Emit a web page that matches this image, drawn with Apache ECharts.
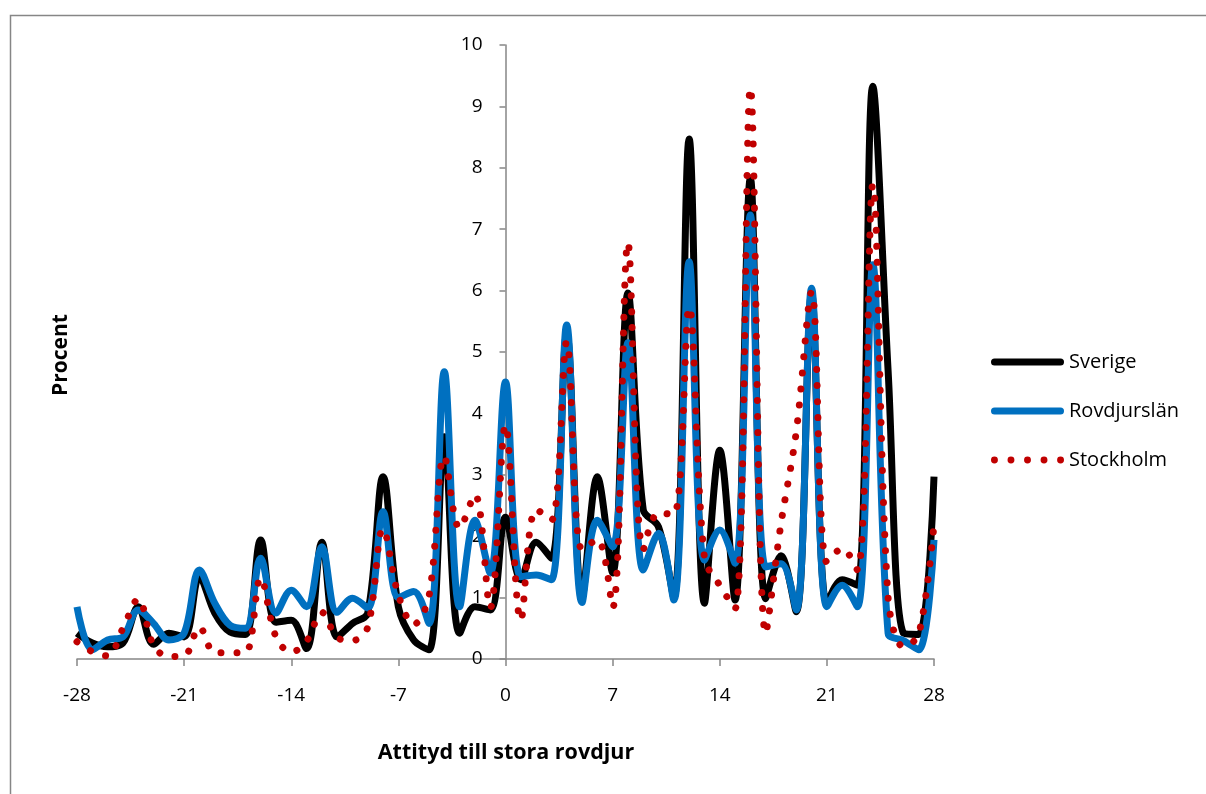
<!DOCTYPE html>
<html>
<head>
<meta charset="utf-8">
<script src="https://cdn.jsdelivr.net/npm/echarts@6/dist/echarts.min.js"></script>
<style>
html,body{margin:0;padding:0;background:#fff;}
#chart{width:1206px;height:794px;}
</style>
</head>
<body>
<div id="chart"></div>
<script>
// x positions (attitude score)
var xValues = [];
for (var i = -28; i <= 28; i++) xValues.push(i);

var xTicks = [-28, -21, -14, -7, 0, 7, 14, 21, 28];
var yTicks = [0, 1, 2, 3, 4, 5, 6, 7, 8, 9, 10];

var seriesNames = ['Sverige', 'Rovdjurslän', 'Stockholm'];

var sverige = [
  0.42, 0.26, 0.20, 0.26, 0.85, 0.24, 0.42, 0.36, 1.34, 0.75,
  0.44, 0.40, 1.94, 0.60, 0.63, 0.17, 1.90, 0.36, 0.58, 0.75,
  2.97, 0.85, 0.31, 0.15, 3.62, 0.42, 0.85, 0.80, 2.31, 1.29,
  1.90, 1.64, 5.30, 1.00, 2.97, 1.40, 5.96, 2.43, 2.15, 1.00,
  8.47, 0.91, 3.40, 0.96, 7.83, 0.98, 1.68, 0.77, 5.95, 0.90,
  1.29, 1.20, 9.33, 4.70, 0.42, 0.40, 2.97
];

var rovdjurslan = [
  0.85, 0.15, 0.31, 0.36, 0.80, 0.58, 0.31, 0.42, 1.45, 0.91,
  0.55, 0.50, 1.64, 0.75, 1.12, 0.85, 1.83, 0.76, 0.99, 0.83,
  2.40, 1.00, 1.10, 0.58, 4.68, 0.85, 2.26, 1.40, 4.51, 1.34,
  1.37, 1.29, 5.44, 0.92, 2.26, 1.83, 5.15, 1.45, 2.05, 0.96,
  6.47, 1.61, 2.10, 1.56, 7.23, 1.50, 1.55, 0.80, 6.04, 0.85,
  1.20, 0.85, 6.42, 0.42, 0.30, 0.15, 1.94
];

var stockholm = [
  0.28, 0.12, 0.05, 0.50, 0.98, 0.22, 0.04, 0.05, 0.52, 0.10,
  0.10, 0.10, 1.32, 0.36, 0.11, 0.29, 0.76, 0.35, 0.30, 0.52,
  2.12, 1.04, 0.56, 1.02, 3.30, 2.13, 2.68, 0.83, 3.81, 0.63,
  2.44, 2.26, 5.17, 1.78, 1.95, 0.84, 6.78, 1.78, 2.38, 2.35,
  5.73, 1.65, 1.20, 0.82, 9.30, 0.42, 2.20, 3.70, 5.98, 1.58,
  1.80, 1.45, 7.72, 1.00, 0.20, 0.40, 2.20
];

function pairs(vals) {
  return xValues.map(function (x, i) { return [x, vals[i]]; });
}

var FONT = '"Open Sans", Lato, sans-serif';
var SMOOTH = 0.35;

var GRID_LEFT = 77, GRID_RIGHT = 272;
var plotWidth = 1206 - GRID_LEFT - GRID_RIGHT;
// shift the y axis so that it crosses the x axis at x = 0
var yAxisOffset = -plotWidth * (0 - xTicks[0]) / (xTicks[xTicks.length - 1] - xTicks[0]);

var solidIcon = 'path://M3.5,0H69.5A3.5,3.5 0 0,1 69.5,7H3.5A3.5,3.5 0 0,1 3.5,0Z';
var dotIcon = 'path://' + [3.5, 20.25, 37, 53.75, 70.5].map(function (c) {
  return 'M' + (c - 3.5) + ',3.5a3.5,3.5 0 1,0 7,0a3.5,3.5 0 1,0 -7,0Z';
}).join('');

var chart = echarts.init(document.getElementById('chart'));
chart.setOption({
  animation: false,
  backgroundColor: '#ffffff',
  grid: { left: GRID_LEFT, right: GRID_RIGHT, top: 45, bottom: 135, containLabel: false },
  xAxis: {
    type: 'value',
    min: xTicks[0],
    max: xTicks[xTicks.length - 1],
    interval: 7,
    axisLine: { show: true, onZero: false, lineStyle: { color: '#868686', width: 1.5 } },
    axisTick: { show: true, inside: false, length: 7, lineStyle: { color: '#868686', width: 1.5 } },
    axisLabel: { color: '#000', fontSize: 19, fontFamily: FONT, margin: 27 },
    splitLine: { show: false }
  },
  yAxis: {
    type: 'value',
    position: 'left',
    offset: yAxisOffset,
    min: yTicks[0],
    max: yTicks[yTicks.length - 1],
    interval: 1,
    axisLine: { show: true, onZero: false, lineStyle: { color: '#868686', width: 1.5 } },
    axisTick: { show: true, inside: false, length: 6, lineStyle: { color: '#868686', width: 1.5 } },
    axisLabel: { color: '#000', fontSize: 19, fontFamily: FONT, margin: 23 },
    splitLine: { show: false }
  },
  legend: {
    orient: 'vertical',
    left: 986,
    top: 345,
    itemWidth: 73,
    itemHeight: 7,
    itemGap: 25,
    textStyle: { color: '#000', fontSize: 20, lineHeight: 24, fontFamily: FONT },
    data: [
      { name: seriesNames[0], icon: solidIcon },
      { name: seriesNames[1], icon: solidIcon },
      { name: seriesNames[2], icon: dotIcon }
    ]
  },
  graphic: [
    {
      type: 'rect', silent: true, z: -1,
      shape: { x: 10.5, y: 15.5, width: 1400, height: 900 },
      style: { fill: 'none', stroke: '#868686', lineWidth: 1.5 }
    },
    {
      type: 'text', silent: true,
      x: 506, y: 753,
      style: { text: 'Attityd till stora rovdjur', fill: '#000', fontSize: 21.5, fontWeight: 'bold', fontFamily: FONT, align: 'center', verticalAlign: 'middle' }
    },
    {
      type: 'text', silent: true,
      x: 61, y: 355, rotation: Math.PI / 2,
      style: { text: 'Procent', fill: '#000', fontSize: 21, fontWeight: 'bold', fontFamily: FONT, align: 'center', verticalAlign: 'middle' }
    }
  ],
  series: [
    {
      name: seriesNames[0], type: 'line', data: pairs(sverige),
      smooth: SMOOTH, symbol: 'none', showSymbol: false,
      lineStyle: { color: '#000000', width: 7 }, itemStyle: { color: '#000000' }, z: 2
    },
    {
      name: seriesNames[1], type: 'line', data: pairs(rovdjurslan),
      smooth: SMOOTH, symbol: 'none', showSymbol: false,
      lineStyle: { color: '#0070C0', width: 7 }, itemStyle: { color: '#0070C0' }, z: 3
    },
    {
      name: seriesNames[2], type: 'line', data: pairs(stockholm),
      smooth: SMOOTH, symbol: 'none', showSymbol: false,
      lineStyle: { color: '#C00000', width: 7, type: [0.01, 16], cap: 'round' }, itemStyle: { color: '#C00000' }, z: 4
    }
  ]
});
</script>
</body>
</html>
